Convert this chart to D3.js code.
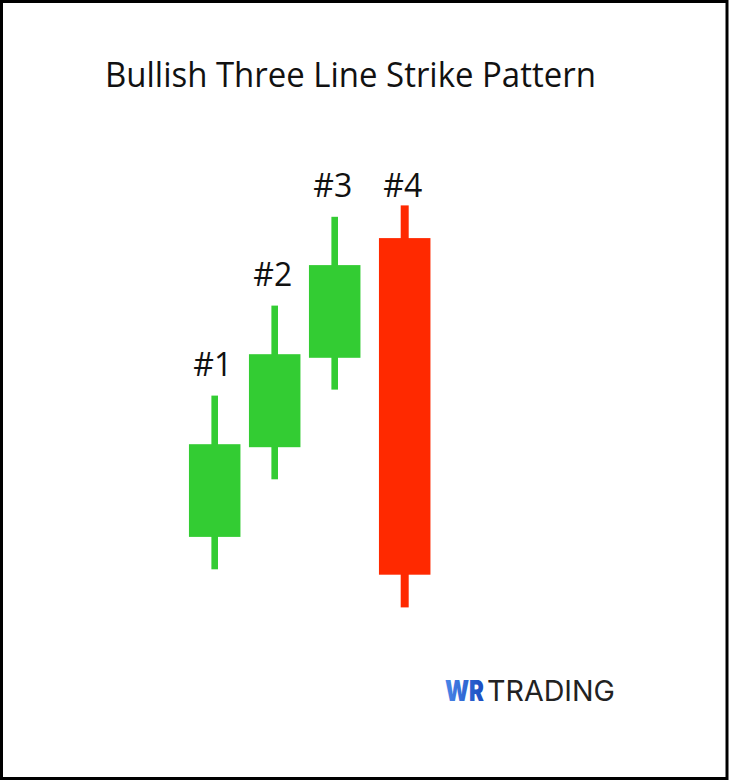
<!DOCTYPE html>
<html>
<head>
<meta charset="utf-8">
<script src="https://cdn.jsdelivr.net/npm/d3@7"></script>
<style>
  html, body { margin: 0; padding: 0; background: #fff; }
  svg { display: block; }
</style>
</head>
<body>
<svg id="chart" width="729" height="781"></svg>
<script>
// ---- data ----
const labels = ["#1", "#2", "#3", "#4"];
const opens  = [27.7, 57.6, 87.4, 127.3];
const closes = [58.6, 88.6, 118.3, 15.1];
const highs  = [74.8, 104.8, 134.4, 138.2];
const lows   = [16.9, 46.9, 76.8, 4.2];
const title = "Bullish Three Line Strike Pattern";

const candles = labels.map((l, i) => ({label: l, i, o: opens[i], c: closes[i], h: highs[i], lo: lows[i]}));

const svg = d3.select("#chart");
const W = 729, H = 781;

svg.append("rect").attr("x", 0).attr("y", 0).attr("width", W).attr("height", H).attr("fill", "#fff");
svg.append("rect").attr("x", 1.5).attr("y", 1.5).attr("width", 725.5).attr("height", 777)
  .attr("fill", "none").attr("stroke", "#000").attr("stroke-width", 3);

// helper: fit text horizontally to a target width by scaling
function fitText(sel, x0, y0, target) {
  const n = sel.node().getComputedTextLength();
  const s = target / n;
  sel.attr("x", 0).attr("y", 0).attr("transform", `translate(${x0},${y0}) scale(${s},1)`);
}

// title
const t = svg.append("text")
  .attr("font-family", "Open Sans, sans-serif").attr("font-size", 35)
  .attr("fill", "#111")
  .text(title);
fitText(t, 105, 87, 491);

// scales
const x = d3.scaleLinear().domain([0, 3]).range([214.7, 394.7]);
const y = d3.scaleLinear().domain([0, 140]).range([620, 200]);
const bodyW = 51.5;
const strikeShift = 10;
const green = "#33cc33", red = "#ff2900";

const cx = d => x(d.i) + (d.c < d.o ? strikeShift : 0);
const col = d => d.c >= d.o ? green : red;

const g = svg.append("g");
g.selectAll("rect.wick").data(candles).enter().append("rect")
  .attr("class", "wick")
  .attr("x", d => cx(d) - (d.c < d.o ? 4 : 3.3))
  .attr("width", d => d.c < d.o ? 8 : 6.6)
  .attr("y", d => y(d.h))
  .attr("height", d => y(d.lo) - y(d.h))
  .attr("fill", col);

g.selectAll("rect.body").data(candles).enter().append("rect")
  .attr("class", "body")
  .attr("x", d => cx(d) - bodyW / 2)
  .attr("width", bodyW)
  .attr("y", d => y(Math.max(d.o, d.c)))
  .attr("height", d => Math.abs(y(d.o) - y(d.c)))
  .attr("fill", col);

// labels
g.selectAll("text.lbl").data(candles).enter().append("text")
  .attr("class", "lbl")
  .attr("x", d => cx(d) - 2)
  .attr("y", d => d.c < d.o ? y(highs[d.i - 1]) - 19.5 : y(d.h) - 20)
  .attr("text-anchor", "middle")
  .attr("font-family", "Open Sans, sans-serif").attr("font-size", 32)
  .attr("fill", "#111")
  .text(d => d.label);

// logo
const defs = svg.append("defs");
const grad = defs.append("linearGradient").attr("id", "wr").attr("x1", "0").attr("x2", "1").attr("y1", "0").attr("y2", "0");
grad.append("stop").attr("offset", "0%").attr("stop-color", "#4a86e8");
grad.append("stop").attr("offset", "100%").attr("stop-color", "#1a4cc0");

const wr = svg.append("text")
  .attr("font-family", "Inter, sans-serif").attr("font-size", 29).attr("font-weight", 900)
  .attr("fill", "url(#wr)")
  .text("WR");
fitText(wr, 445, 701, 39);
const tr = svg.append("text")
  .attr("font-family", "Inter, sans-serif").attr("font-size", 29).attr("font-weight", 400)
  .attr("fill", "#222")
  .text("TRADING");
fitText(tr, 487, 701, 128);
</script>
</body>
</html>
